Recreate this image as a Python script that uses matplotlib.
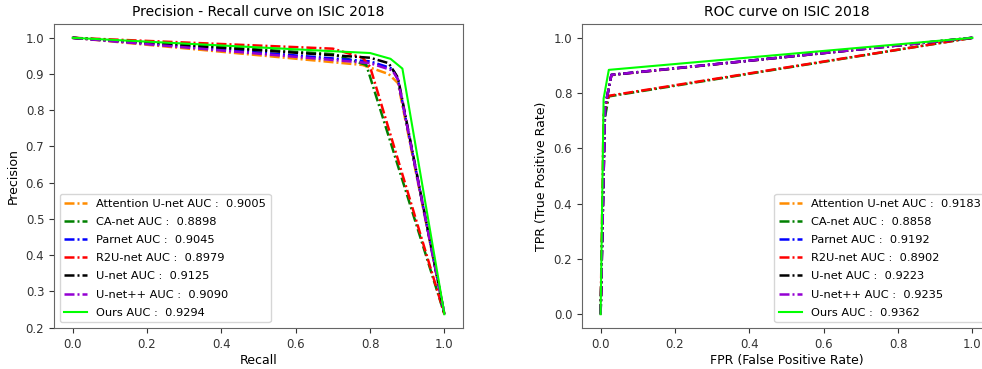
import numpy as np
import matplotlib
matplotlib.use("Agg")
import matplotlib.pyplot as plt

MODELS = ["Attention U-net", "CA-net", "Parnet", "R2U-net", "U-net", "U-net++", "Ours"]
COLORS = ["darkorange", "green", "blue", "red", "black", "darkviolet", "lime"]
STYLES = ["-.", "-.", "-.", "-.", "-.", "-.", "-"]

PR_AUC = ["0.9005", "0.8898", "0.9045", "0.8979", "0.9125", "0.9090", "0.9294"]
ROC_AUC = ["0.9183", "0.8858", "0.9192", "0.8902", "0.9223", "0.9235", "0.9362"]

# precision-recall points
PR_RECALL = [
    [0.0, 0.78, 0.85, 0.875, 1.0],
    [0.0, 0.70, 0.79, 1.0],
    [0.0, 0.80, 0.86, 0.875, 1.0],
    [0.0, 0.70, 0.78, 0.80, 1.0],
    [0.0, 0.80, 0.85, 0.875, 1.0],
    [0.0, 0.80, 0.86, 0.875, 1.0],
    [0.0, 0.70, 0.80, 0.855, 0.887, 1.0],
]
PR_PRECISION = [
    [1.0, 0.925, 0.90, 0.875, 0.237],
    [1.0, 0.955, 0.925, 0.237],
    [1.0, 0.935, 0.915, 0.885, 0.237],
    [1.0, 0.970, 0.945, 0.920, 0.237],
    [1.0, 0.945, 0.930, 0.890, 0.237],
    [1.0, 0.930, 0.910, 0.885, 0.237],
    [1.0, 0.963, 0.958, 0.942, 0.915, 0.237],
]

# ROC points
ROC_FPR = [
    [0.0, 0.012, 0.029, 1.0],
    [0.0, 0.010, 0.022, 1.0],
    [0.0, 0.012, 0.029, 1.0],
    [0.0, 0.008, 0.021, 1.0],
    [0.0, 0.012, 0.029, 1.0],
    [0.0, 0.012, 0.029, 1.0],
    [0.0, 0.008, 0.022, 1.0],
]
ROC_TPR = [
    [0.0, 0.75, 0.865, 1.0],
    [0.0, 0.70, 0.788, 1.0],
    [0.0, 0.75, 0.866, 1.0],
    [0.0, 0.72, 0.790, 1.0],
    [0.0, 0.75, 0.866, 1.0],
    [0.0, 0.75, 0.866, 1.0],
    [0.0, 0.78, 0.884, 1.0],
]

fig = plt.figure(figsize=(9.82, 3.69), dpi=100)
ax1 = fig.add_axes([0.055, 0.111, 0.4165, 0.824])
ax2 = fig.add_axes([0.5927, 0.111, 0.4165, 0.824])

for i, name in enumerate(MODELS):
    kw = dict(color=COLORS[i], lw=1.5)
    if STYLES[i] == "-.":
        # short dash-dot, like the downscaled original
        kw.update(lw=1.8, dashes=(4, 1.2, 0.8, 1.2))
    ax1.plot(PR_RECALL[i], PR_PRECISION[i], STYLES[i],
             label=f"{name} AUC :  {PR_AUC[i]}", **kw)
    ax2.plot(ROC_FPR[i], ROC_TPR[i], STYLES[i],
             label=f"{name} AUC :  {ROC_AUC[i]}", **kw)

ax1.set_title("Precision - Recall curve on ISIC 2018", fontsize=10)
ax1.set_xlabel("Recall", fontsize=9, labelpad=2)
ax1.set_ylabel("Precision", fontsize=9)
ax1.legend(loc="lower left", fontsize=8.2, labelspacing=0.72)

ax2.set_title("ROC curve on ISIC 2018", fontsize=10)
ax2.set_xlabel("FPR (False Positive Rate)", fontsize=9, labelpad=2)
ax2.set_ylabel("TPR (True Positive Rate)", fontsize=9)
ax2.legend(loc="lower right", fontsize=8.2, labelspacing=0.72)

for ax in (ax1, ax2):
    ax.tick_params(labelsize=8.5, colors="#333333")
    for s in ax.spines.values():
        s.set_color("#666666")
ax1.set_yticks(np.arange(0.2, 1.01, 0.1))
ax2.set_xticks(np.arange(0, 1.01, 0.2))

fig.savefig("out.png", dpi=100)
